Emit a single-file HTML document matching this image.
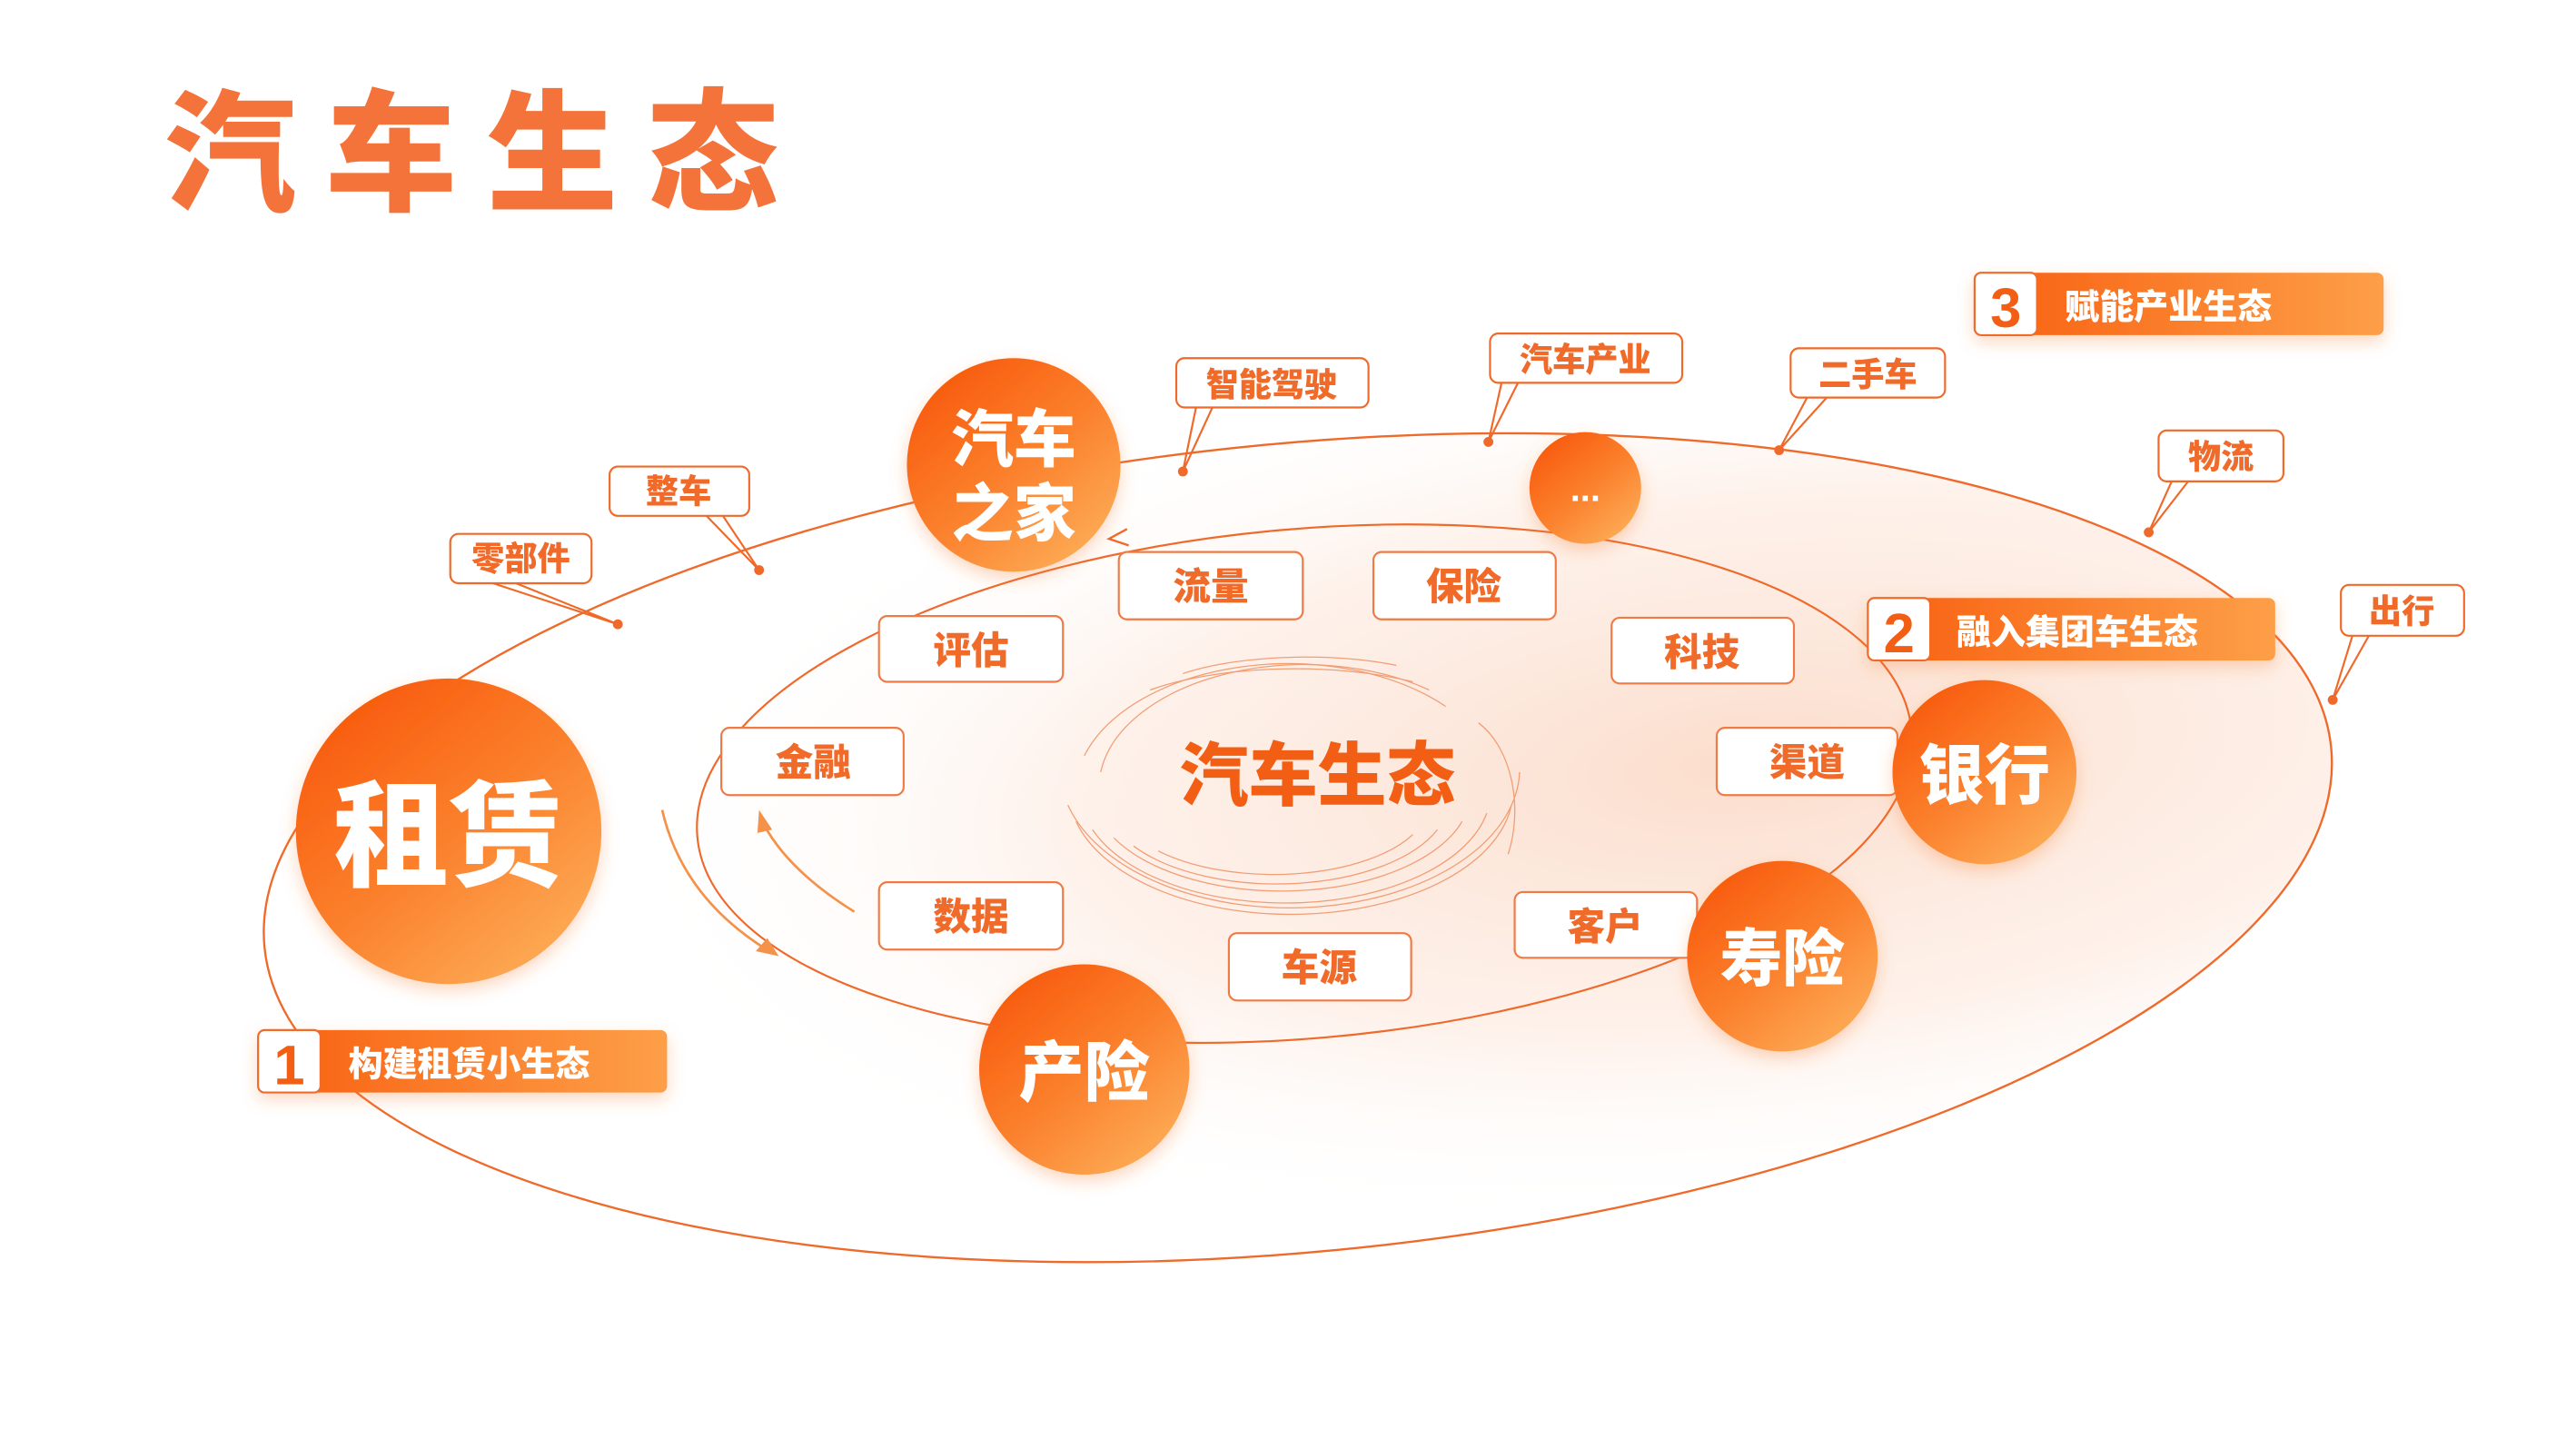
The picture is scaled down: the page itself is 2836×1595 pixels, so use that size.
<!DOCTYPE html>
<html><head><meta charset="utf-8">
<style>
html,body{margin:0;padding:0;background:#fff;}
svg{display:block;}
text{font-family:"Liberation Sans","Noto Sans CJK SC","WenQuanYi Zen Hei",sans-serif;font-weight:900;}
</style></head>
<body>
<svg width="2836" height="1595" viewBox="0 0 1568 882" xmlns="http://www.w3.org/2000/svg">
<defs>
<radialGradient id="bg" cx="0.72" cy="0.45" r="0.55">
<stop offset="0" stop-color="#fbd9c6" stop-opacity="0.9"/>
<stop offset="0.6" stop-color="#fde9de" stop-opacity="0.6"/>
<stop offset="1" stop-color="#fff" stop-opacity="0"/>
</radialGradient>
<linearGradient id="ball" x1="0.1" y1="0.1" x2="0.8" y2="0.95">
<stop offset="0" stop-color="#f85a0c"/>
<stop offset="0.55" stop-color="#fb822e"/>
<stop offset="1" stop-color="#fdaa55"/>
</linearGradient>
<linearGradient id="ban" x1="0" y1="0" x2="1" y2="0">
<stop offset="0" stop-color="#f85f10"/>
<stop offset="1" stop-color="#fd9f48"/>
</linearGradient>
<filter id="sh" x="-30%" y="-30%" width="160%" height="160%"><feDropShadow dx="0" dy="4" stdDeviation="5" flood-color="#f47a30" flood-opacity="0.3"/></filter>
</defs>

<text x="100" y="122" font-size="80" fill="#f4733a" letter-spacing="18">汽车生态</text>

<ellipse cx="790" cy="516" rx="632" ry="246" transform="rotate(-5.5 790 516)" fill="url(#bg)"/>
<ellipse cx="790" cy="516" rx="632" ry="246" transform="rotate(-5.5 790 516)" fill="none" stroke="#ef6a2a" stroke-width="1.3"/>
<ellipse cx="794" cy="477" rx="371" ry="155" transform="rotate(-5 794 477)" fill="none" stroke="#ef6a2a" stroke-width="1.2"/>
<path d="M686 322 l-11 6 l12 4" fill="none" stroke="#ef6a2a" stroke-width="1.3"/>

<g fill="none" stroke="#f08a58" stroke-width="0.7" opacity="0.8">
<path d="M660 460 A130 80 0 0 1 880 430"/>
<path d="M670 470 A125 75 0 0 1 870 420"/>
<path d="M655 500 A135 75 0 0 0 920 490"/>
<path d="M665 505 A125 68 0 0 0 905 495"/>
<path d="M678 510 A115 60 0 0 0 890 500"/>
<path d="M690 515 A105 52 0 0 0 875 505"/>
<path d="M705 518 A95 44 0 0 0 860 508"/>
<path d="M650 490 A140 85 0 0 0 925 470"/>
<path d="M700 420 A120 40 0 0 1 860 415"/>
<path d="M720 410 A100 30 0 0 1 850 405"/>
<path d="M900 440 A40 60 0 0 1 918 520"/>
</g>
<text x="802" y="487" font-size="42" fill="#f25e14" text-anchor="middle">汽车生态</text>

<path d="M403 493 Q415 545 465 577" fill="none" stroke="#f5924a" stroke-width="1.5"/>
<path d="M474 582 l-14 -3 l7 -8z" fill="#f5924a"/>
<path d="M520 555 Q480 530 465 502" fill="none" stroke="#f5924a" stroke-width="1.5"/>
<path d="M462 493 l8 12 l-9 2z" fill="#f5924a"/>

<g font-size="23" fill="#f06a2a" text-anchor="middle">
<g stroke="#ef7a45" stroke-width="1.2" fill="#fff">
<rect x="535" y="375" width="112" height="40" rx="5"/>
<rect x="439" y="443" width="111" height="41" rx="5"/>
<rect x="535" y="537" width="112" height="41" rx="5"/>
<rect x="681" y="336" width="112" height="41" rx="5"/>
<rect x="836" y="336" width="111" height="41" rx="5"/>
<rect x="981" y="376" width="111" height="40" rx="5"/>
<rect x="1045" y="443" width="110" height="41" rx="5"/>
<rect x="922" y="543" width="111" height="40" rx="5"/>
<rect x="748" y="568" width="111" height="41" rx="5"/>
</g>
<text x="591" y="404">评估</text>
<text x="495" y="472">金融</text>
<text x="591" y="566">数据</text>
<text x="737" y="365">流量</text>
<text x="891" y="365">保险</text>
<text x="1036" y="405">科技</text>
<text x="1100" y="472">渠道</text>
<text x="977" y="572">客户</text>
<text x="803" y="597">车源</text>
</g>

<g stroke="#ef6a2a" stroke-width="1.2" fill="#fff">
<rect x="274" y="325" width="86" height="30" rx="5"/><path d="M300 355 L376 380 L314 355" fill="none"/>
<rect x="371" y="284" width="85" height="30" rx="5"/><path d="M430 314 L462 347 L440 314" fill="none"/>
<rect x="716" y="218" width="117" height="30" rx="5"/><path d="M728 248 L720 287 L738 248" fill="none"/>
<rect x="907" y="203" width="117" height="30" rx="5"/><path d="M914 233 L906 269 L924 233" fill="none"/>
<rect x="1090" y="212" width="94" height="30" rx="5"/><path d="M1100 242 L1083 274 L1112 242" fill="none"/>
<rect x="1314" y="262" width="76" height="31" rx="5"/><path d="M1322 293 L1308 324 L1332 293" fill="none"/>
<rect x="1425" y="356" width="75" height="31" rx="5"/><path d="M1432 387 L1420 426 L1442 387" fill="none"/>
</g>
<g fill="#ef6a2a">
<circle cx="376" cy="380" r="3"/><circle cx="462" cy="347" r="3"/><circle cx="720" cy="287" r="3"/><circle cx="906" cy="269" r="3"/><circle cx="1083" cy="274" r="3"/><circle cx="1308" cy="324" r="3"/><circle cx="1420" cy="426" r="3"/>
</g>
<g font-size="20" fill="#f06a2a" text-anchor="middle">
<text x="317" y="347">零部件</text>
<text x="413" y="306">整车</text>
<text x="774" y="241">智能驾驶</text>
<text x="965" y="226">汽车产业</text>
<text x="1137" y="235">二手车</text>
<text x="1352" y="285">物流</text>
<text x="1462" y="379">出行</text>
</g>

<g filter="url(#sh)">
<circle cx="273" cy="506" r="93" fill="url(#ball)"/>
<circle cx="617" cy="283" r="65" fill="url(#ball)"/>
<circle cx="965" cy="297" r="34" fill="url(#ball)"/>
<circle cx="1208" cy="470" r="56" fill="url(#ball)"/>
<circle cx="1085" cy="582" r="58" fill="url(#ball)"/>
<circle cx="660" cy="651" r="64" fill="url(#ball)"/>
</g>
<g fill="#fff" text-anchor="middle">
<text x="273" y="534" font-size="70">租赁</text>
<text x="617" y="281" font-size="38">汽车</text>
<text x="617" y="326" font-size="38">之家</text>
<text x="965" y="305" font-size="22">...</text>
<text x="1208" y="486" font-size="40">银行</text>
<text x="1085" y="597" font-size="38">寿险</text>
<text x="660" y="667" font-size="40">产险</text>
</g>

<g filter="url(#sh)">
<rect x="157" y="627" width="249" height="38" rx="4" fill="url(#ban)"/>
<rect x="1137" y="364" width="248" height="38" rx="4" fill="url(#ban)"/>
<rect x="1202" y="166" width="249" height="38" rx="4" fill="url(#ban)"/>
</g>
<g fill="#fff" stroke="#f06a2a" stroke-width="1.2">
<rect x="157" y="627" width="38" height="38" rx="4"/>
<rect x="1137" y="364" width="38" height="38" rx="4"/>
<rect x="1202" y="166" width="38" height="38" rx="4"/>
</g>
<g fill="#f25e14" font-size="34" text-anchor="middle">
<text x="176" y="660">1</text>
<text x="1156" y="397">2</text>
<text x="1221" y="199">3</text>
</g>
<g fill="#fff" font-size="21">
<text x="212" y="655">构建租赁小生态</text>
<text x="1191" y="392">融入集团车生态</text>
<text x="1257" y="194">赋能产业生态</text>
</g>
</svg>
</body></html>
